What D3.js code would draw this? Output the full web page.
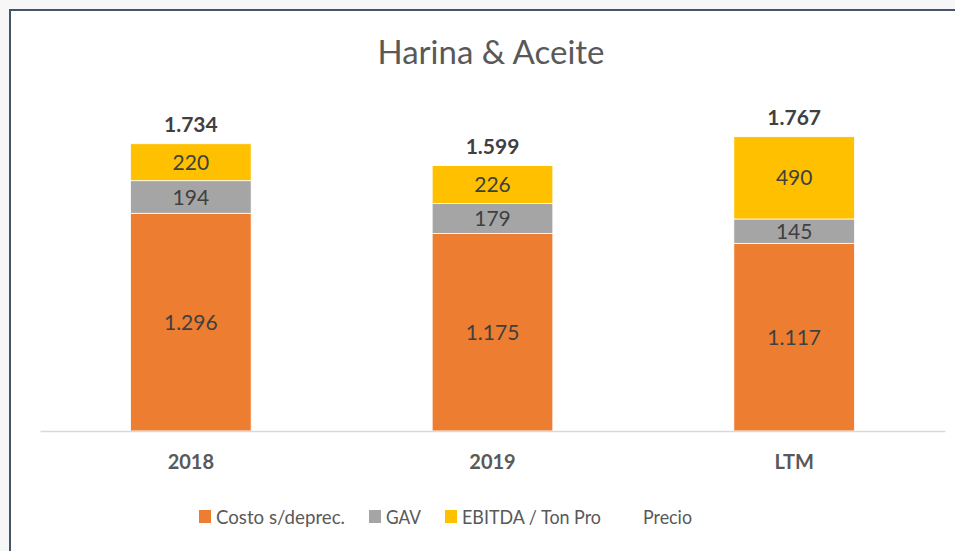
<!DOCTYPE html>
<html>
<head>
<meta charset="utf-8">
<script src="https://cdn.jsdelivr.net/npm/d3@7"></script>
<style>
  body { margin: 0; background: #f7f7f7; }
  svg { display: block; font-family: Lato, "Liberation Sans", sans-serif; }
</style>
</head>
<body>
<svg id="chart" width="955" height="551"></svg>
<script>
const categories = ["2018", "2019", "LTM"];
const costo = [1296, 1175, 1117];
const gav = [194, 179, 145];
const ebitda = [220, 226, 490];
const totals = ["1.734", "1.599", "1.767"];
const seriesNames = ["Costo s/deprec.", "GAV", "EBITDA / Ton Pro", "Precio"];
const colors = ["#ed7d31", "#a5a5a5", "#ffc000", "none"];

const svg = d3.select("#chart"),
    margin = {top: 95, right: 10, bottom: 120, left: 40},
    width = 955 - margin.left - margin.right,
    height = 551 - margin.top - margin.bottom;

// chart area with border
svg.append("rect")
    .attr("x", 10).attr("y", 10)
    .attr("width", 960).attr("height", 560)
    .attr("fill", "#fff")
    .attr("stroke", "#44546a")
    .attr("stroke-width", 2);

const fmt = v => d3.format(",")(v).replace(/,/g, ".");

const data = categories.map((c, i) => ({cat: c, costo: costo[i], gav: gav[i], ebitda: ebitda[i], total: totals[i]}));
const keys = ["costo", "gav", "ebitda"];
const stack = d3.stack().keys(keys)(data);

const x = d3.scaleBand()
    .domain(categories)
    .range([0, 905])
    .paddingInner(0.6)
    .paddingOuter(0.3);

const y = d3.scaleLinear()
    .domain([0, 2000])
    .range([height, height - 2000 * 0.168]);

const g = svg.append("g")
    .attr("transform", "translate(" + margin.left + "," + margin.top + ")");

// title
svg.append("text")
    .attr("x", 491)
    .attr("y", 64)
    .attr("text-anchor", "middle")
    .attr("fill", "#595959")
    .attr("font-size", "33px")
    .text("Harina & Aceite");

// bars
stack.forEach((s, k) => {
  g.selectAll(".bar" + k)
    .data(s)
    .enter()
    .append("rect")
    .attr("x", d => x(d.data.cat))
    .attr("y", d => y(d[1]))
    .attr("width", x.bandwidth())
    .attr("height", d => y(d[0]) - y(d[1]))
    .attr("fill", colors[k])
    .attr("stroke", "#fff")
    .attr("stroke-width", 0.8);

  g.selectAll(".lab" + k)
    .data(s)
    .enter()
    .append("text")
    .attr("x", d => x(d.data.cat) + x.bandwidth() / 2)
    .attr("y", d => (y(d[0]) + y(d[1])) / 2)
    .attr("dy", "0.36em")
    .attr("text-anchor", "middle")
    .attr("fill", "#404040")
    .attr("font-size", "21px")
    .text(d => fmt(d[1] - d[0]));
});

// totals
g.selectAll(".total")
    .data(stack[2])
    .enter()
    .append("text")
    .attr("x", d => x(d.data.cat) + x.bandwidth() / 2)
    .attr("y", d => y(d[1]) - 12)
    .attr("text-anchor", "middle")
    .attr("fill", "#404040")
    .attr("font-size", "21px")
    .attr("font-weight", "bold")
    .text(d => d.data.total);

// x axis
const xAxis = g.append("g")
    .attr("transform", "translate(0," + height + ")")
    .call(d3.axisBottom(x).tickSize(0).tickPadding(24));
xAxis.select(".domain").attr("stroke", "#d9d9d9").attr("stroke-width", 1.5);
xAxis.selectAll("text")
    .attr("fill", "#595959")
    .attr("font-size", "20px")
    .attr("font-weight", "bold")
    .style("font-family", "Lato, 'Liberation Sans', sans-serif");

// legend
const legendX = [199, 369, 445, 626];
const legendW = [129, 35, 139, 49];
const legend = svg.append("g");
seriesNames.forEach((n, i) => {
  if (colors[i] !== "none") {
    legend.append("rect")
      .attr("x", legendX[i]).attr("y", 510)
      .attr("width", 12).attr("height", 13)
      .attr("fill", colors[i]);
  }
  legend.append("text")
    .attr("x", legendX[i] + 17)
    .attr("y", 524)
    .attr("fill", "#595959")
    .attr("font-size", "20px")
    .attr("textLength", legendW[i])
    .attr("lengthAdjust", "spacingAndGlyphs")
    .text(n);
});
</script>
</body>
</html>
